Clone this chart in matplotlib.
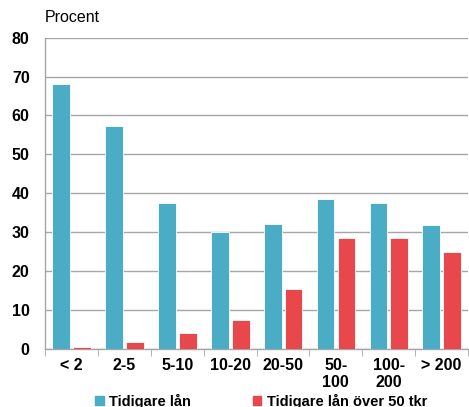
import numpy as np
import matplotlib
matplotlib.use('Agg')
import matplotlib.pyplot as plt
from matplotlib.patches import Patch

kategorier = ['< 2', '2-5', '5-10', '10-20', '20-50', '50-\n100', '100-\n200', '> 200']
tidigare_lan = [68.0, 57.3, 37.6, 30.0, 32.1, 38.6, 37.6, 31.7]
tidigare_lan_50 = [0.5, 1.6, 4.0, 7.3, 15.4, 28.6, 28.5, 25.0]
serienamn = ['Tidigare lån', 'Tidigare lån över 50 tkr']

BLA = '#4BACC6'
ROD = '#E8474C'
GRID = '#A6A6A6'

plt.rcParams['font.family'] = ['Liberation Sans', 'DejaVu Sans']

fig = plt.figure(figsize=(4.69, 4.07), dpi=100)
ax = fig.add_axes([45 / 469, 0.1433, 1 - 45 / 469 - 0.002, 0.764])

x = np.arange(len(kategorier))
bredd = 0.335
ax.bar(x - 0.195, tidigare_lan, bredd, color=BLA, edgecolor='white', linewidth=0.6, zorder=3)
ax.bar(x + 0.2, tidigare_lan_50, bredd, color=ROD, edgecolor='white', linewidth=0.6, zorder=3)

ax.set_xlim(-0.5, len(kategorier) - 0.5)
ax.set_ylim(0, 80)
ax.set_yticks(range(0, 81, 10))
ax.yaxis.grid(True, color=GRID, linewidth=1.0, zorder=0)
ax.tick_params(axis='y', length=0, pad=11, labelsize=11.5)
for t in ax.get_yticklabels():
    t.set_fontweight('bold')

ax.set_xticks(x)
ax.set_xticklabels(kategorier, fontsize=11.5, fontweight='bold', linespacing=1.15)
ax.set_xticks(np.arange(-0.5, len(kategorier)), minor=True)
ax.tick_params(axis='x', which='major', length=0, pad=7)
ax.tick_params(axis='x', which='minor', length=5, color=GRID, direction='out')

for s in ['top', 'right']:
    ax.spines[s].set_visible(False)
for s in ['left', 'bottom']:
    ax.spines[s].set_color(GRID)
    ax.spines[s].set_linewidth(1.0)

fig.text(45 / 469, 1 - 18 / 407, 'Procent', fontsize=11.5, va='center', ha='left')

handtag = [Patch(color=BLA), Patch(color=ROD)]
fig.legend(handtag, serienamn, loc='center', bbox_to_anchor=(0.557, 1 - 401 / 407),
           ncol=2, frameon=False, prop={'weight': 'bold', 'size': 10.5},
           handlelength=0.6, handleheight=0.6, handletextpad=0.4, columnspacing=4.2)

fig.savefig('out.png', dpi=100)
